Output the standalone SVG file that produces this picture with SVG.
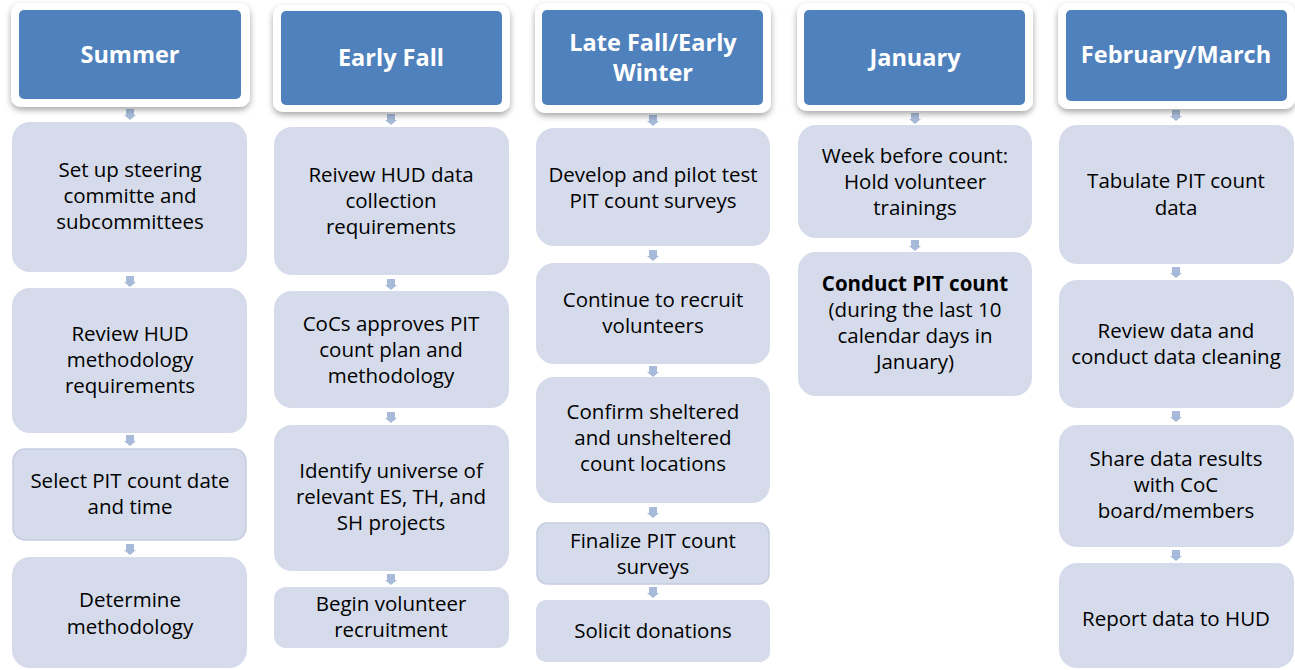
<svg xmlns="http://www.w3.org/2000/svg" width="1295" height="670" viewBox="0 0 1295 670">
<defs>
<filter id="sh" x="-10%" y="-10%" width="120%" height="130%">
<feDropShadow dx="0" dy="3" stdDeviation="3" flood-color="#000" flood-opacity="0.35"/>
</filter>
<polygon id="arr" points="-4,0 4,0 4,6 6,6 0,11 -6,6 -4,6" />
</defs>
<style>
.outer{fill:#ffffff;filter:url(#sh)}
.hdr{fill:#4f81bd}
.ht{font-family:"Open Sans","Liberation Sans",sans-serif;font-weight:bold;font-size:23.5px;fill:#ffffff;text-anchor:middle}
.box{fill:#d5dbea}
.bd{stroke:#c5cde0;stroke-width:1.5}
.bt{font-family:"Open Sans","Liberation Sans",sans-serif;font-size:20.5px;fill:#000;text-anchor:middle}
.b{font-weight:bold}
.arrow{fill:#a7bad9}
</style>
<g id="connectors">
<use href="#arr" class="arrow" x="130" y="109"/>
<use href="#arr" class="arrow" x="130" y="276"/>
<use href="#arr" class="arrow" x="130" y="435"/>
<use href="#arr" class="arrow" x="130" y="544"/>
<use href="#arr" class="arrow" x="391" y="114"/>
<use href="#arr" class="arrow" x="391" y="279"/>
<use href="#arr" class="arrow" x="391" y="412"/>
<use href="#arr" class="arrow" x="391" y="574"/>
<use href="#arr" class="arrow" x="653" y="115"/>
<use href="#arr" class="arrow" x="653" y="250"/>
<use href="#arr" class="arrow" x="653" y="366"/>
<use href="#arr" class="arrow" x="653" y="507"/>
<use href="#arr" class="arrow" x="653" y="587"/>
<use href="#arr" class="arrow" x="915" y="113"/>
<use href="#arr" class="arrow" x="915" y="240"/>
<use href="#arr" class="arrow" x="1176" y="110"/>
<use href="#arr" class="arrow" x="1176" y="267"/>
<use href="#arr" class="arrow" x="1176" y="411"/>
<use href="#arr" class="arrow" x="1176" y="550"/>
</g>
<g id="h1"><rect class="outer" x="11" y="3" width="239" height="104" rx="10"/><rect class="hdr" x="19" y="10" width="222" height="89" rx="5"/><text class="ht" x="130" y="63">Summer</text></g>
<g id="h2"><rect class="outer" x="273" y="5" width="237" height="107" rx="10"/><rect class="hdr" x="281" y="11" width="221" height="94" rx="5"/><text class="ht" x="391" y="66">Early Fall</text></g>
<g id="h3"><rect class="outer" x="535" y="3" width="236" height="110" rx="10"/><rect class="hdr" x="542" y="10" width="221" height="95" rx="5"/><text class="ht" x="653" y="51">Late Fall/Early</text><text class="ht" x="653" y="81">Winter</text></g>
<g id="h4"><rect class="outer" x="797" y="3" width="236" height="108" rx="10"/><rect class="hdr" x="804" y="10" width="221" height="95" rx="5"/><text class="ht" x="915" y="66">January</text></g>
<g id="h5"><rect class="outer" x="1058" y="3" width="237" height="106" rx="10"/><rect class="hdr" x="1066" y="10" width="221" height="91" rx="5"/><text class="ht" x="1176" y="63">February/March</text></g>

<g id="c1b1"><rect class="box" x="12" y="122" width="235" height="150" rx="18"/><text class="bt" x="130" y="177">Set up steering</text><text class="bt" x="130" y="203">committe and</text><text class="bt" x="130" y="229">subcommittees</text></g>
<g id="c1b2"><rect class="box" x="12" y="288" width="235" height="145" rx="18"/><text class="bt" x="130" y="341">Review HUD</text><text class="bt" x="130" y="367">methodology</text><text class="bt" x="130" y="393">requirements</text></g>
<g id="c1b3"><rect class="box bd" x="13" y="449" width="233" height="91" rx="12"/><text class="bt" x="130" y="488">Select PIT count date</text><text class="bt" x="130" y="514">and time</text></g>
<g id="c1b4"><rect class="box" x="12" y="557" width="235" height="111" rx="18"/><text class="bt" x="130" y="607">Determine</text><text class="bt" x="130" y="634">methodology</text></g>

<g id="c2b1"><rect class="box" x="274" y="127" width="235" height="148" rx="18"/><text class="bt" x="391" y="182">Reivew HUD data</text><text class="bt" x="391" y="208">collection</text><text class="bt" x="391" y="234">requirements</text></g>
<g id="c2b2"><rect class="box" x="274" y="291" width="235" height="117" rx="18"/><text class="bt" x="391" y="331">CoCs approves PIT</text><text class="bt" x="391" y="357">count plan and</text><text class="bt" x="391" y="383">methodology</text></g>
<g id="c2b3"><rect class="box" x="274" y="425" width="235" height="146" rx="18"/><text class="bt" x="391" y="478">Identify universe of</text><text class="bt" x="391" y="504">relevant ES, TH, and</text><text class="bt" x="391" y="530">SH projects</text></g>
<g id="c2b4"><rect class="box" x="274" y="587" width="235" height="61" rx="12"/><text class="bt" x="391" y="611">Begin volunteer</text><text class="bt" x="391" y="637">recruitment</text></g>

<g id="c3b1"><rect class="box" x="536" y="128" width="234" height="118" rx="18"/><text class="bt" x="653" y="182">Develop and pilot test</text><text class="bt" x="653" y="208">PIT count surveys</text></g>
<g id="c3b2"><rect class="box" x="536" y="263" width="234" height="101" rx="18"/><text class="bt" x="653" y="307">Continue to recruit</text><text class="bt" x="653" y="333">volunteers</text></g>
<g id="c3b3"><rect class="box" x="536" y="377" width="234" height="126" rx="18"/><text class="bt" x="653" y="419">Confirm sheltered</text><text class="bt" x="653" y="445">and unsheltered</text><text class="bt" x="653" y="471">count locations</text></g>
<g id="c3b4"><rect class="box bd" x="537" y="523" width="232" height="61" rx="10"/><text class="bt" x="653" y="548">Finalize PIT count</text><text class="bt" x="653" y="574">surveys</text></g>
<g id="c3b5"><rect class="box" x="536" y="600" width="234" height="62" rx="10"/><text class="bt" x="653" y="638">Solicit donations</text></g>

<g id="c4b1"><rect class="box" x="798" y="125" width="234" height="113" rx="18"/><text class="bt" x="915" y="163">Week before count:</text><text class="bt" x="915" y="189">Hold volunteer</text><text class="bt" x="915" y="215">trainings</text></g>
<g id="c4b2"><rect class="box" x="798" y="252" width="234" height="144" rx="18"/><text class="bt b" x="915" y="291">Conduct PIT count</text><text class="bt" x="915" y="317">(during the last 10</text><text class="bt" x="915" y="343">calendar days in</text><text class="bt" x="915" y="369">January)</text></g>

<g id="c5b1"><rect class="box" x="1059" y="125" width="235" height="139" rx="18"/><text class="bt" x="1176" y="188">Tabulate PIT count</text><text class="bt" x="1176" y="215">data</text></g>
<g id="c5b2"><rect class="box" x="1059" y="280" width="235" height="128" rx="18"/><text class="bt" x="1176" y="338">Review data and</text><text class="bt" x="1176" y="364">conduct data cleaning</text></g>
<g id="c5b3"><rect class="box" x="1059" y="425" width="235" height="122" rx="18"/><text class="bt" x="1176" y="466">Share data results</text><text class="bt" x="1176" y="492">with CoC</text><text class="bt" x="1176" y="518">board/members</text></g>
<g id="c5b4"><rect class="box" x="1059" y="563" width="235" height="105" rx="18"/><text class="bt" x="1176" y="626">Report data to HUD</text></g>
</svg>
